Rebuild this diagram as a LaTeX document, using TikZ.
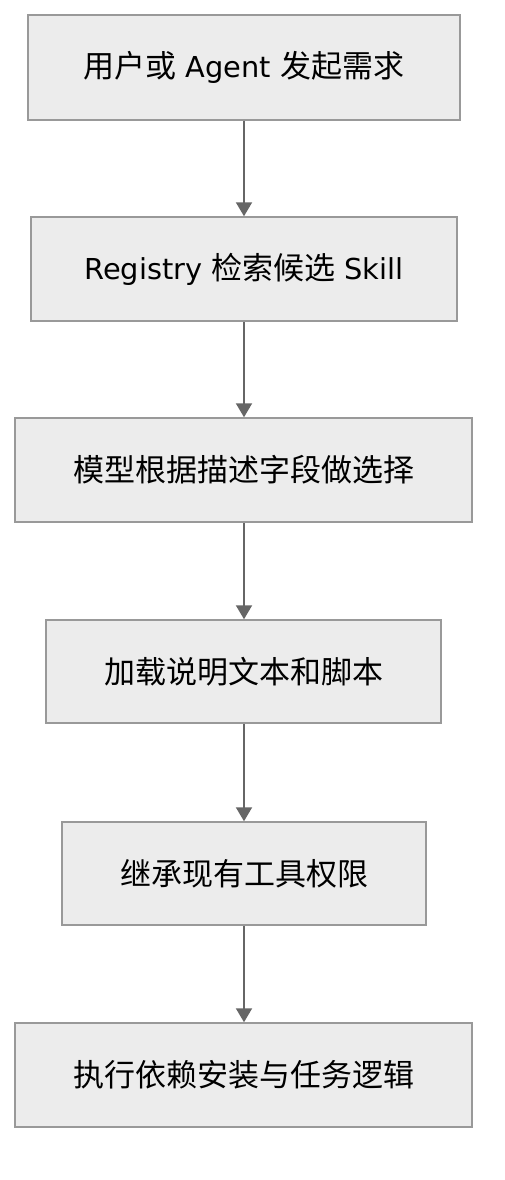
\documentclass[tikz,border=0pt]{standalone}
\usepackage{fontspec}
\setmainfont{DejaVu Sans}[Scale=0.93]
\newfontfamily\cjk{Noto Sans CJK SC}
\usetikzlibrary{arrows.meta}
\definecolor{boxfill}{HTML}{ECECEC}
\definecolor{boxline}{HTML}{999999}
\definecolor{arrowc}{HTML}{666666}
\begin{document}
\begin{tikzpicture}[x=1pt,y=-1pt,
  stepbox/.style={draw=boxline,fill=boxfill,line width=1.5pt,minimum height=104pt,inner sep=0pt,font=\fontsize{31}{36}\selectfont},
  flow/.style={draw=arrowc,line width=2pt,-{Triangle[length=14pt,width=16pt]}}]
\useasboundingbox (0,0) rectangle (504,1180);
\node[stepbox,minimum width=432pt,minimum height=105pt] (a) at (244,67.5) {{\cjk 用户或} Agent {\cjk 发起需求}};
\node[stepbox,minimum width=426pt] (b) at (244,269) {Registry {\cjk 检索候选} Skill};
\node[stepbox,minimum width=457pt] (c) at (243.5,470) {\cjk 模型根据描述字段做选择};
\node[stepbox,minimum width=395pt,minimum height=103pt] (d) at (243.5,671.5) {\cjk 加载说明文本和脚本};
\node[stepbox,minimum width=364pt,minimum height=103pt] (e) at (244,873.5) {\cjk 继承现有工具权限};
\node[stepbox,minimum width=457pt] (f) at (243.5,1075) {\cjk 执行依赖安装与任务逻辑};
\draw[flow] (a.south -| 244,0) -- (b.north -| 244,0);
\draw[flow] (b.south -| 244,0) -- (c.north -| 244,0);
\draw[flow] (c.south -| 244,0) -- (d.north -| 244,0);
\draw[flow] (d.south -| 244,0) -- (e.north -| 244,0);
\draw[flow] (e.south -| 244,0) -- (f.north -| 244,0);
\end{tikzpicture}
\end{document}
